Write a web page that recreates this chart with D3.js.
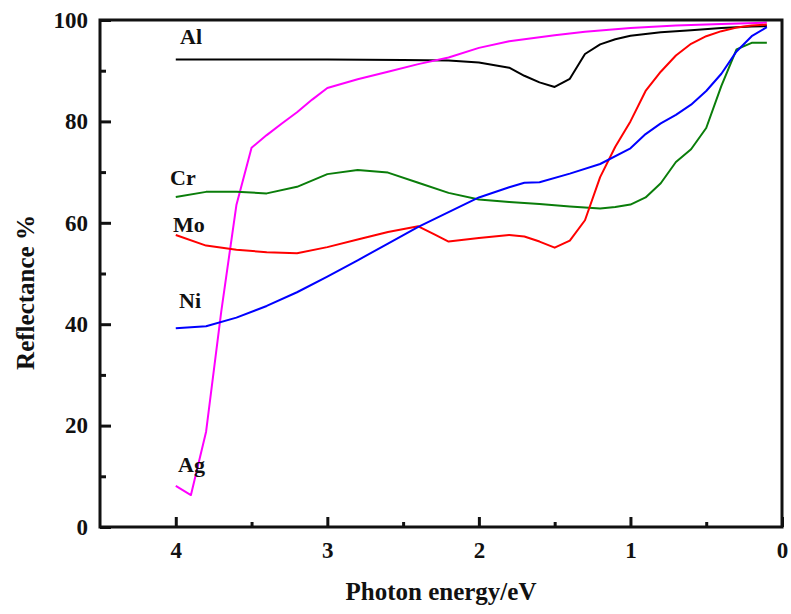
<!DOCTYPE html>
<html>
<head>
<meta charset="utf-8">
<script src="https://cdn.jsdelivr.net/npm/d3@7"></script>
<style>
  html, body { margin: 0; padding: 0; background: #fff; }
  svg text { font-family: "Liberation Serif", "Times New Roman", serif; font-weight: bold; fill: #111; }
</style>
</head>
<body>
<svg id="chart" width="791" height="614"></svg>
<script>
// ---- Data (photon energy in eV, reflectance in %) ----
const xTicks = [4, 3, 2, 1, 0];
const xMinorTicks = [3.5, 2.5, 1.5, 0.5];
const yTicks = [0, 20, 40, 60, 80, 100];
const yMinorTicks = [10, 30, 50, 70, 90];

const energyAl = [4.0, 3.5, 3.0, 2.5, 2.2, 2.0, 1.8, 1.7, 1.6, 1.5, 1.4, 1.3, 1.2, 1.1, 1.0, 0.8, 0.6, 0.4, 0.2, 0.1];
const reflAl   = [92.2, 92.2, 92.2, 92.1, 92.0, 91.6, 90.6, 89.0, 87.7, 86.8, 88.4, 93.3, 95.2, 96.2, 96.9, 97.6, 98.0, 98.4, 98.7, 98.8];

const energyAg = [4.0, 3.9, 3.8, 3.7, 3.6, 3.5, 3.4, 3.3, 3.2, 3.1, 3.0, 2.8, 2.6, 2.4, 2.2, 2.0, 1.8, 1.5, 1.3, 1.0, 0.7, 0.4, 0.1];
const reflAg   = [8.1, 6.3, 18.8, 42.5, 63.5, 74.8, 77.3, 79.6, 81.8, 84.3, 86.6, 88.3, 89.8, 91.3, 92.6, 94.5, 95.8, 97.0, 97.7, 98.4, 98.9, 99.2, 99.5];

const energyCr = [4.0, 3.8, 3.6, 3.4, 3.2, 3.0, 2.8, 2.6, 2.4, 2.2, 2.0, 1.8, 1.6, 1.4, 1.2, 1.1, 1.0, 0.9, 0.8, 0.7, 0.6, 0.5, 0.4, 0.3, 0.2, 0.1];
const reflCr   = [65.1, 66.1, 66.1, 65.8, 67.1, 69.6, 70.4, 69.9, 67.9, 65.9, 64.6, 64.1, 63.7, 63.2, 62.8, 63.1, 63.6, 65.0, 67.8, 72.0, 74.5, 78.7, 87.0, 94.2, 95.5, 95.5];

const energyMo = [4.0, 3.8, 3.6, 3.4, 3.2, 3.0, 2.8, 2.6, 2.4, 2.3, 2.2, 2.0, 1.8, 1.7, 1.6, 1.5, 1.4, 1.3, 1.2, 1.1, 1.0, 0.9, 0.8, 0.7, 0.6, 0.5, 0.4, 0.3, 0.2, 0.1];
const reflMo   = [57.6, 55.5, 54.7, 54.2, 54.0, 55.2, 56.7, 58.2, 59.3, 57.8, 56.3, 57.0, 57.6, 57.3, 56.3, 55.1, 56.5, 60.5, 69.0, 75.0, 80.0, 86.0, 89.8, 93.0, 95.3, 96.8, 97.8, 98.5, 98.9, 99.1];

const energyNi = [4.0, 3.8, 3.6, 3.4, 3.2, 3.0, 2.8, 2.6, 2.4, 2.2, 2.0, 1.8, 1.7, 1.6, 1.4, 1.2, 1.0, 0.9, 0.8, 0.7, 0.6, 0.5, 0.4, 0.3, 0.2, 0.1];
const reflNi   = [39.2, 39.6, 41.3, 43.6, 46.3, 49.4, 52.6, 55.9, 59.2, 62.1, 65.0, 67.0, 67.9, 68.0, 69.7, 71.6, 74.7, 77.5, 79.6, 81.3, 83.3, 86.0, 89.4, 93.8, 96.8, 98.6];

const seriesNames = ["Al", "Ag", "Cr", "Mo", "Ni"];
const seriesColors = ["#000000", "#ff00ff", "#0a7d0a", "#ff0000", "#0000ff"];

// ---- Build series table ----
const series = [
  { name: "Al", e: energyAl, r: reflAl },
  { name: "Ag", e: energyAg, r: reflAg },
  { name: "Cr", e: energyCr, r: reflCr },
  { name: "Mo", e: energyMo, r: reflMo },
  { name: "Ni", e: energyNi, r: reflNi }
].map((s, i) => ({ ...s, color: seriesColors[i], pts: s.e.map((v, j) => [v, s.r[j]]) }));

// ---- Layout ----
const W = 791, H = 614;
const L = 100, R = 782, T = 20, B = 527;

const svg = d3.select("#chart");
const x = d3.scaleLinear().domain([4.5, 0]).range([L, R]);
const y = d3.scaleLinear().domain([0, 100]).range([B, T]);

// Lines
const line = d3.line().x(d => x(d[0])).y(d => y(d[1]));
svg.append("g").selectAll("path").data(series).join("path")
  .attr("d", d => line(d.pts))
  .attr("fill", "none")
  .attr("stroke", d => d.color)
  .attr("stroke-width", 2)
  .attr("stroke-linejoin", "round");

// Axes
const xAxis = svg.append("g").attr("transform", `translate(0,${B})`)
  .call(d3.axisBottom(x).tickValues(xTicks).tickFormat(d3.format("d")).tickSize(-10).tickPadding(15));
const xMinor = svg.append("g").attr("transform", `translate(0,${B})`)
  .call(d3.axisBottom(x).tickValues(xMinorTicks).tickFormat("").tickSize(-5));
const yAxis = svg.append("g").attr("transform", `translate(${L},0)`)
  .call(d3.axisLeft(y).tickValues(yTicks).tickSize(-11).tickPadding(12));
const yMinor = svg.append("g").attr("transform", `translate(${L},0)`)
  .call(d3.axisLeft(y).tickValues(yMinorTicks).tickFormat("").tickSize(-6));

[xAxis, xMinor, yAxis, yMinor].forEach(g => {
  g.select(".domain").remove();
  g.selectAll(".tick line").attr("stroke", "#111").attr("stroke-width", 3);
  g.selectAll(".tick text").style("font-size", "23px").attr("fill", "#111");
});

// Frame
svg.append("rect")
  .attr("x", L).attr("y", T).attr("width", R - L).attr("height", B - T)
  .attr("fill", "none").attr("stroke", "#111").attr("stroke-width", 3);

// Axis titles
svg.append("text")
  .attr("x", (L + R) / 2).attr("y", 600)
  .attr("text-anchor", "middle")
  .style("font-size", "25px")
  .text("Photon energy/eV");

svg.append("text")
  .attr("transform", `translate(34,${(T + B) / 2 + 19}) rotate(-90)`)
  .attr("text-anchor", "middle")
  .style("font-size", "25px")
  .text("Reflectance %");

// Series labels
const labelPos = { Al: [180, 44], Cr: [170, 185], Mo: [173, 232], Ni: [179, 308], Ag: [178, 472] };
svg.append("g").selectAll("text").data(seriesNames).join("text")
  .attr("x", d => labelPos[d][0])
  .attr("y", d => labelPos[d][1])
  .style("font-size", "22px")
  .text(d => d);
</script>
</body>
</html>
